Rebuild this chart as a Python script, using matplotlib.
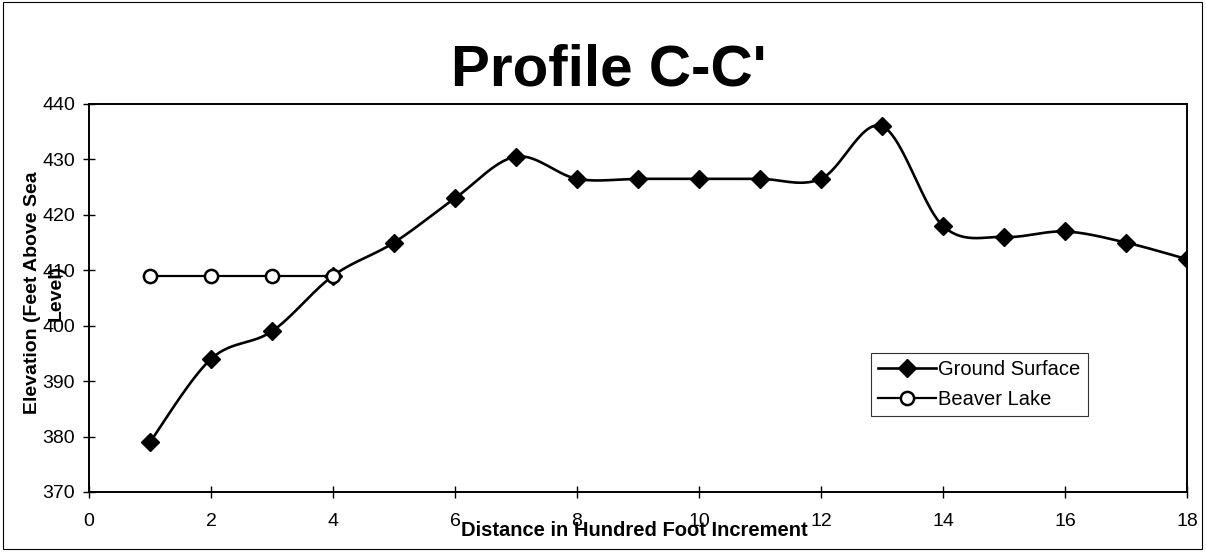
import numpy as np
import matplotlib
matplotlib.use("Agg")
import matplotlib.pyplot as plt
from matplotlib.patches import Rectangle

# ---- data ----
distance = [1, 2, 3, 4, 5, 6, 7, 8, 9, 10, 11, 12, 13, 14, 15, 16, 17, 18]
ground_surface = [379, 394, 399, 409, 415, 423, 430.5, 426.5, 426.5, 426.5,
                  426.5, 426.5, 436, 418, 416, 417, 415, 412]
lake_distance = [1, 2, 3, 4]
beaver_lake = [409, 409, 409, 409]
x_ticks = [0, 2, 4, 6, 8, 10, 12, 14, 16, 18]
y_ticks = [370, 380, 390, 400, 410, 420, 430, 440]
title = "Profile C-C'"
x_label = "Distance in Hundred Foot Increment"
y_label = "Elevation (Feet Above Sea\nLevel)"
series_names = ["Ground Surface", "Beaver Lake"]


def smooth(xs, ys, n=30):
    """Excel-style smoothed line: cubic Bezier with Catmull-Rom control points."""
    xs = np.asarray(xs, float)
    ys = np.asarray(ys, float)
    P = np.column_stack([xs, ys])
    out = [P[0]]
    t = np.linspace(0, 1, n)[1:]
    for i in range(len(P) - 1):
        p0 = P[i - 1] if i > 0 else P[i]
        p1 = P[i]
        p2 = P[i + 1]
        p3 = P[i + 2] if i + 2 < len(P) else P[i + 1]
        c1 = p1 + (p2 - p0) / 6.0
        c2 = p2 - (p3 - p1) / 6.0
        seg = ((1 - t)[:, None] ** 3 * p1 + 3 * (1 - t)[:, None] ** 2 * t[:, None] * c1
               + 3 * (1 - t)[:, None] * t[:, None] ** 2 * c2 + t[:, None] ** 3 * p2)
        out.extend(seg)
    out = np.array(out)
    return out[:, 0], out[:, 1]


plt.rcParams['font.family'] = ['Liberation Sans', 'DejaVu Sans']

W, H = 1206, 554
fig = plt.figure(figsize=(W / 100, H / 100), dpi=100)
fig.patch.set_facecolor('white')

# figure border
fig.add_artist(Rectangle((3 / W, 5 / H), 1199 / W, 547 / H, transform=fig.transFigure,
                         fill=False, edgecolor='black', linewidth=0.8))

ax = fig.add_axes([89 / W, 1 - 492 / H, (1187 - 89) / W, (492 - 104) / H])

LW = 1.9
sx, sy = smooth(distance, ground_surface)
ax.plot(sx, sy, color='black', linewidth=LW, zorder=2)
ax.plot(distance, ground_surface, linestyle='none', marker='D', markersize=9.5,
        color='black', zorder=3)
ax.plot([], [], color='black', linewidth=LW, marker='D', markersize=9,
        label=series_names[0])

ax.plot(lake_distance, beaver_lake, color='black', linewidth=1.6, marker='o',
        markersize=9.5, markerfacecolor='white', markeredgecolor='black',
        markeredgewidth=1.8, label=series_names[1], zorder=4)

ax.set_xlim(0, 18)
ax.set_ylim(370, 440)
ax.set_xticks(x_ticks)
ax.set_yticks(y_ticks)
ax.tick_params(axis='both', direction='inout', length=8, width=1, labelsize=14,
               colors='black')
ax.tick_params(axis='x', pad=11)
ax.tick_params(axis='y', pad=6)
for s in ax.spines.values():
    s.set_linewidth(1.4)
    s.set_color('black')

fig.text(609 / W, 1 - 70 / H, title, ha='center', va='center',
         fontsize=42, fontweight='bold')
fig.text(634 / W, 1 - 531 / H, x_label, ha='center', va='center',
         fontsize=14.5, fontweight='bold')
fig.text(44 / W, 1 - 293 / H, y_label, ha='center', va='center', rotation=90,
         fontsize=14, fontweight='bold', multialignment='center', linespacing=1.5)

leg = ax.legend(loc='upper left', bbox_to_anchor=(871 / W, 1 - 353 / H),
                bbox_transform=fig.transFigure, frameon=True, fancybox=False,
                edgecolor='black', fontsize=14.5, handlelength=2.9,
                handletextpad=0.1, labelspacing=0.55, borderpad=0.35,
                borderaxespad=0)
leg.get_frame().set_linewidth(0.8)

fig.savefig('out.png', dpi=100, facecolor='white')
